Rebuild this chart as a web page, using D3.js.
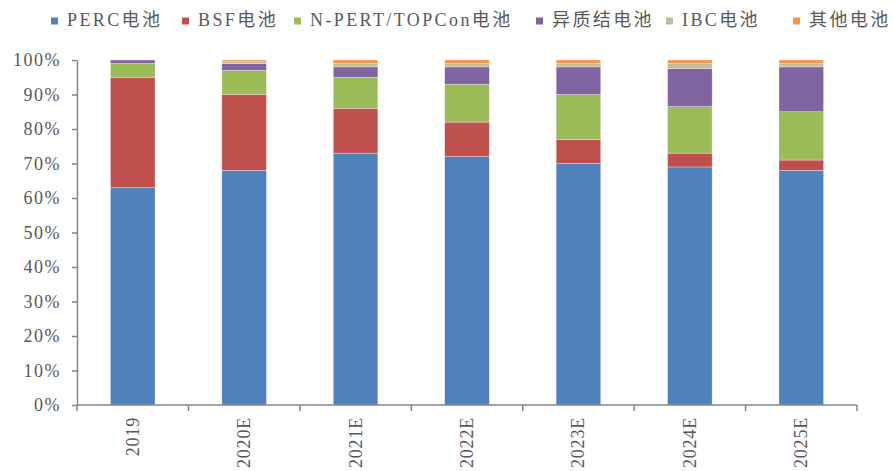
<!DOCTYPE html>
<html><head><meta charset="utf-8">
<script src="https://cdn.jsdelivr.net/npm/d3@7"></script>
<style>
body{margin:0;background:#fff;}
svg text{font-family:"Liberation Serif","Noto Sans CJK SC",serif;fill:#595959;}
</style></head>
<body><svg id="c" width="893" height="471"></svg>
<script>
const categories = ["2019","2020E","2021E","2022E","2023E","2024E","2025E"];
const seriesNames = ["PERC电池","BSF电池","N-PERT/TOPCon电池","异质结电池","IBC电池","其他电池"];
const perc   = [63, 68, 73, 72, 70, 69, 68];
const bsf    = [32, 22, 13, 10, 7, 4, 3];
const ntop   = [4, 7, 9, 11, 13, 13.5, 14];
const hjt    = [1, 2, 3, 5, 8, 11, 13];
const ibc    = [0, 0.5, 1, 1, 1, 1.5, 1];
const other  = [0, 0.5, 1, 1, 1, 1, 1];
const yTicks = [0,10,20,30,40,50,60,70,80,90,100];
const colors = ["#4F81BD","#C0504D","#9BBB59","#8064A2","#C4BD97","#F79646"];

const seriesVals = [perc,bsf,ntop,hjt,ibc,other];
const rows = categories.map((c,i)=>{const r={cat:c}; seriesNames.forEach((s,j)=>r[s]=seriesVals[j][i]); return r;});
const stack = d3.stack().keys(seriesNames)(rows);

const svg = d3.select("#c");
const m = {l:77, r:36, t:60, b:66};
const W = 893, H = 471;
const x = d3.scaleBand().domain(categories).range([m.l, W-m.r]).paddingInner(0.6).paddingOuter(0.3);
const y = d3.scaleLinear().domain([0,100]).range([H-m.b, m.t]);

svg.append("g").selectAll("g").data(stack).join("g")
  .attr("fill",(d,i)=>colors[i])
  .selectAll("rect").data(d=>d).join("rect")
  .attr("x",d=>x(d.data.cat))
  .attr("width",x.bandwidth())
  .attr("y",d=>y(d[1]))
  .attr("height",d=>Math.max(0,y(d[0])-y(d[1])))
  .attr("stroke","#ffffff").attr("stroke-opacity",0.5).attr("stroke-width",0.6);

// y axis
const ya = svg.append("g").attr("transform",`translate(${m.l},0)`)
  .call(d3.axisLeft(y).tickValues(yTicks).tickFormat(d=>d+"%").tickSize(5).tickSizeOuter(0).tickPadding(11));
ya.select(".domain").attr("stroke","#868686").attr("stroke-width",1.5);
ya.selectAll(".tick line").attr("stroke","#868686").attr("stroke-width",1.5);
ya.selectAll("text").style("font-size","18px").style("letter-spacing","1.5px").attr("fill","#595959").attr("font-family",null);

// x axis
const xa = svg.append("g").attr("transform",`translate(0,${H-m.b})`);
xa.append("line").attr("x1",m.l).attr("x2",W-m.r).attr("y1",0).attr("y2",0).attr("stroke","#868686").attr("stroke-width",1.5);
const bounds = d3.range(categories.length+1).map(i=>m.l + (W-m.r-m.l)*i/categories.length);
xa.selectAll("line.t").data(bounds).join("line").attr("class","t")
  .attr("x1",d=>d).attr("x2",d=>d).attr("y1",0).attr("y2",6)
  .attr("stroke","#868686").attr("stroke-width",1.5);
xa.selectAll("text").data(categories).join("text")
  .attr("transform",d=>`translate(${x(d)+x.bandwidth()/2+6},12) rotate(-90)`)
  .attr("text-anchor","end")
  .style("font-size","18px").style("letter-spacing","0.8px")
  .text(d=>d);

// legend
const legX = [51, 182, 294, 536, 666, 793];
const lg = svg.append("g").selectAll("g").data(seriesNames).join("g")
  .attr("transform",(d,i)=>`translate(${legX[i]},26)`);
lg.append("rect").attr("x",0).attr("y",-8.5).attr("width",7).attr("height",7).attr("fill",(d,i)=>colors[i]);
lg.append("text").attr("x",16).attr("y",0).style("font-size","18px").style("letter-spacing","2.4px").text(d=>d);
</script></body></html>
